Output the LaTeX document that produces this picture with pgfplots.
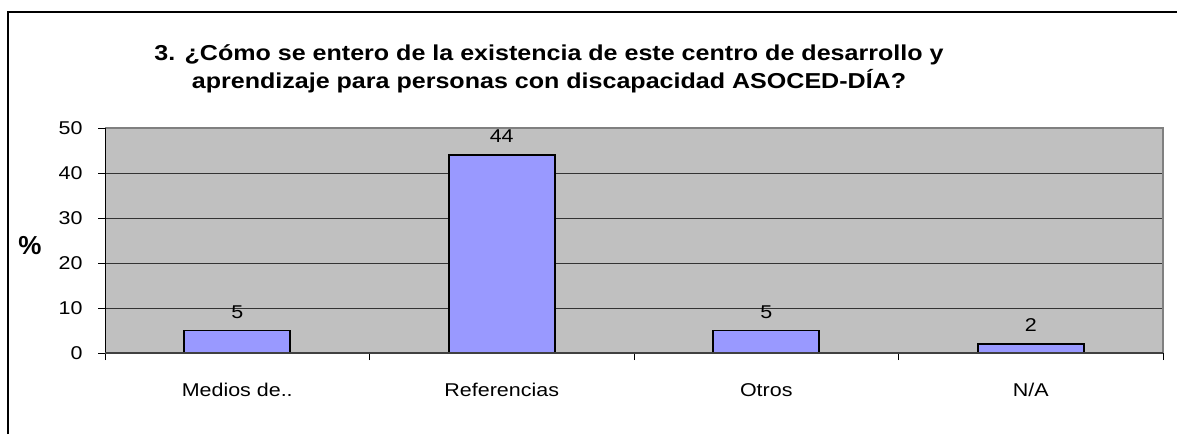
\documentclass[border=0pt]{standalone}
\usepackage{pgfplots}
\pgfplotsset{compat=1.18}
\usepackage{fontspec}
\setmainfont[FakeStretch=1.16]{Liberation Sans}
\newfontfamily\plainfont{Liberation Sans}
\definecolor{plotbg}{HTML}{C0C0C0}
\definecolor{barfill}{HTML}{9999FF}
\definecolor{framegray}{HTML}{808080}
\begin{document}
\begin{tikzpicture}[x=1pt,y=1pt]
\useasboundingbox (0,0) rectangle (1177,434);
\draw[line width=2.5pt] (8,0) -- (8,422) -- (1177,422);
\node[align=center, font=\fontsize{21.6}{28}\selectfont\bfseries] at (549,365)
  {3. ¿Cómo se entero de la existencia de este centro de desarrollo y\\aprendizaje para personas con discapacidad ASOCED-DÍA?};
\node[font=\plainfont\fontsize{26}{28}\selectfont\bfseries] at (30,188) {\%};
\begin{axis}[
  at={(105pt,81pt)}, anchor=south west,
  width=1058pt, height=225pt, scale only axis,
  xmin=-0.5, xmax=3.5, ymin=0, ymax=50,
  ytick={0,10,20,30,40,50},
  xtick={-0.5,0.5,1.5,2.5,3.5},
  xtick pos=bottom, ytick pos=left,
  xticklabels={Medios de.., Referencias, Otros, N/A, {}},
  xticklabel style={xshift=132.25pt, yshift=-20pt},
  yticklabel style={xshift=-12pt},
  /pgf/number format/assume math mode=true,
  tick label style={font=\fontsize{18.5}{22}\selectfont},
  tick align=outside, major tick length=7pt,
  tick style={black, line width=0.8pt},
  ymajorgrids, grid style={black!80, line width=0.9pt},
  axis line style={draw=none},
  axis background/.style={fill=plotbg},
  clip=false,
  ybar, bar width=106pt,
  nodes near coords,
  every node near coord/.append style={font=\fontsize{18.5}{22}\selectfont, yshift=8pt},
]
\addplot[fill=barfill, draw=black, line width=1.6pt] coordinates {(0,5) (1,44) (2,5) (3,2)};
\draw[framegray, line width=2pt] (rel axis cs:0,1) -- (rel axis cs:1,1) -- (rel axis cs:1,0);
\draw[black, line width=1pt] (rel axis cs:0,0) -- (rel axis cs:0,1);
\draw[black!75, line width=2pt] (rel axis cs:0,0) -- (rel axis cs:1,0);
\end{axis}
\end{tikzpicture}
\end{document}
